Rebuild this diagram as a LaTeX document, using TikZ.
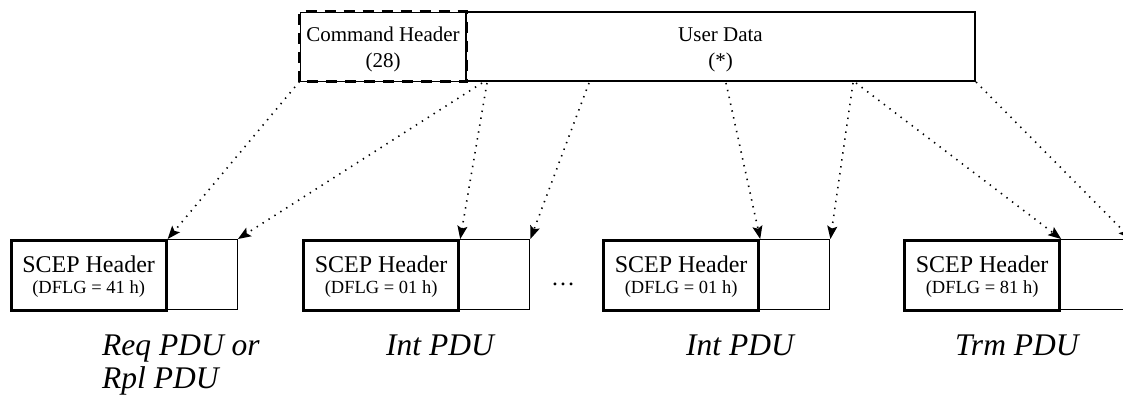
\documentclass[tikz,border=0pt]{standalone}
\usepackage{fontspec}
\setmainfont{Liberation Serif}
\usetikzlibrary{arrows.meta}
\begin{document}
\begin{tikzpicture}[x=1pt,y=-1pt,
  hdrbox/.style={draw, line width=3.2pt, rectangle, minimum width=155pt, minimum height=70pt, inner sep=0pt, anchor=north west},
  databox/.style={draw, line width=1.4pt, rectangle, minimum width=72pt, minimum height=70pt, inner sep=0pt, anchor=north west},
  topbox/.style={draw, line width=2pt, rectangle, minimum height=69pt, inner sep=0pt},
  toptext/.style={anchor=base, font=\fontsize{21}{21}\selectfont, inner sep=0pt},
  hdrtext/.style={anchor=base, font=\fontsize{24}{24}\selectfont, inner sep=0pt},
  flgtext/.style={anchor=base, font=\fontsize{18.5}{18.5}\selectfont, inner sep=0pt},
  pdulabel/.style={anchor=base west, font=\fontsize{31.5}{31.5}\selectfont\itshape, inner sep=0pt},
  maparrow/.style={line width=1.6pt, dash pattern=on 1.4pt off 5.6pt, -{Stealth[length=13pt,width=10pt,inset=2.5pt]}}
]
\useasboundingbox (0,0) rectangle (1123,397);
\begin{scope}
\clip (0,0) rectangle (1123,397);
% top boxes
\node[topbox, minimum width=509pt] (ud) at (720.5,46.5) {};
\node[draw, line width=1pt, rectangle, minimum width=166pt, minimum height=69pt, inner sep=0pt] (ch) at (383,46.5) {};
\draw[line width=3.6pt, dash pattern=on 11pt off 8pt] (ch.south west) rectangle (ch.north east);
\node[toptext] (cht1) at (383,41) {Command Header};
\node[toptext] (cht2) at (383,67) {(28)};
\node[toptext] (udt1) at (720.5,41) {User Data};
\node[toptext] (udt2) at (720.5,67) {(*)};
% bottom PDUs
\node[databox] (d1) at (164.5,239) {};
\node[databox] (d2) at (457,239) {};
\node[databox] (d3) at (757,239) {};
\node[databox] (d4) at (1058,239) {};
\node[hdrbox] (h1) at (9.5,239) {};
\node[hdrbox] (h2) at (302,239) {};
\node[hdrbox] (h3) at (602,239) {};
\node[hdrbox] (h4) at (903,239) {};
\foreach \h/\v in {h1/41, h2/01, h3/01, h4/81}{
  \node[hdrtext] (\h t1) at ([yshift=3pt]\h.center) {SCEP Header};
  \node[flgtext] (\h t2) at ([yshift=-18pt]\h.center) {(DFLG = \v\ h)};
}
\node[hdrtext] (dots) at (563,285) {\dots};
% labels
\node[pdulabel] (l1a) at (102,355) {Req PDU or};
\node[pdulabel] (l1b) at (102,388) {Rpl PDU};
\node[pdulabel] (l2) at (386,355) {Int PDU};
\node[pdulabel] (l3) at (686,355) {Int PDU};
\node[pdulabel] (l4) at (955,355) {Trm PDU};
% arrow sources
\coordinate (s2) at (482,83);
\coordinate (s3) at (487,83);
\coordinate (s4) at (589,83);
\coordinate (s5) at (726,83);
\coordinate (s6) at (853,83);
\coordinate (s7) at (856,83);
\draw[maparrow] (ch.south west) -- (h1.north east);
\draw[maparrow] (s2) -- (d1.north east);
\draw[maparrow] (s3) -- (h2.north east);
\draw[maparrow] (s4) -- (d2.north east);
\draw[maparrow] (s5) -- (h3.north east);
\draw[maparrow] (s6) -- (d3.north east);
\draw[maparrow] (s7) -- (h4.north east);
\draw[maparrow] (ud.south east) -- (d4.north east);
\end{scope}
\end{tikzpicture}
\end{document}
